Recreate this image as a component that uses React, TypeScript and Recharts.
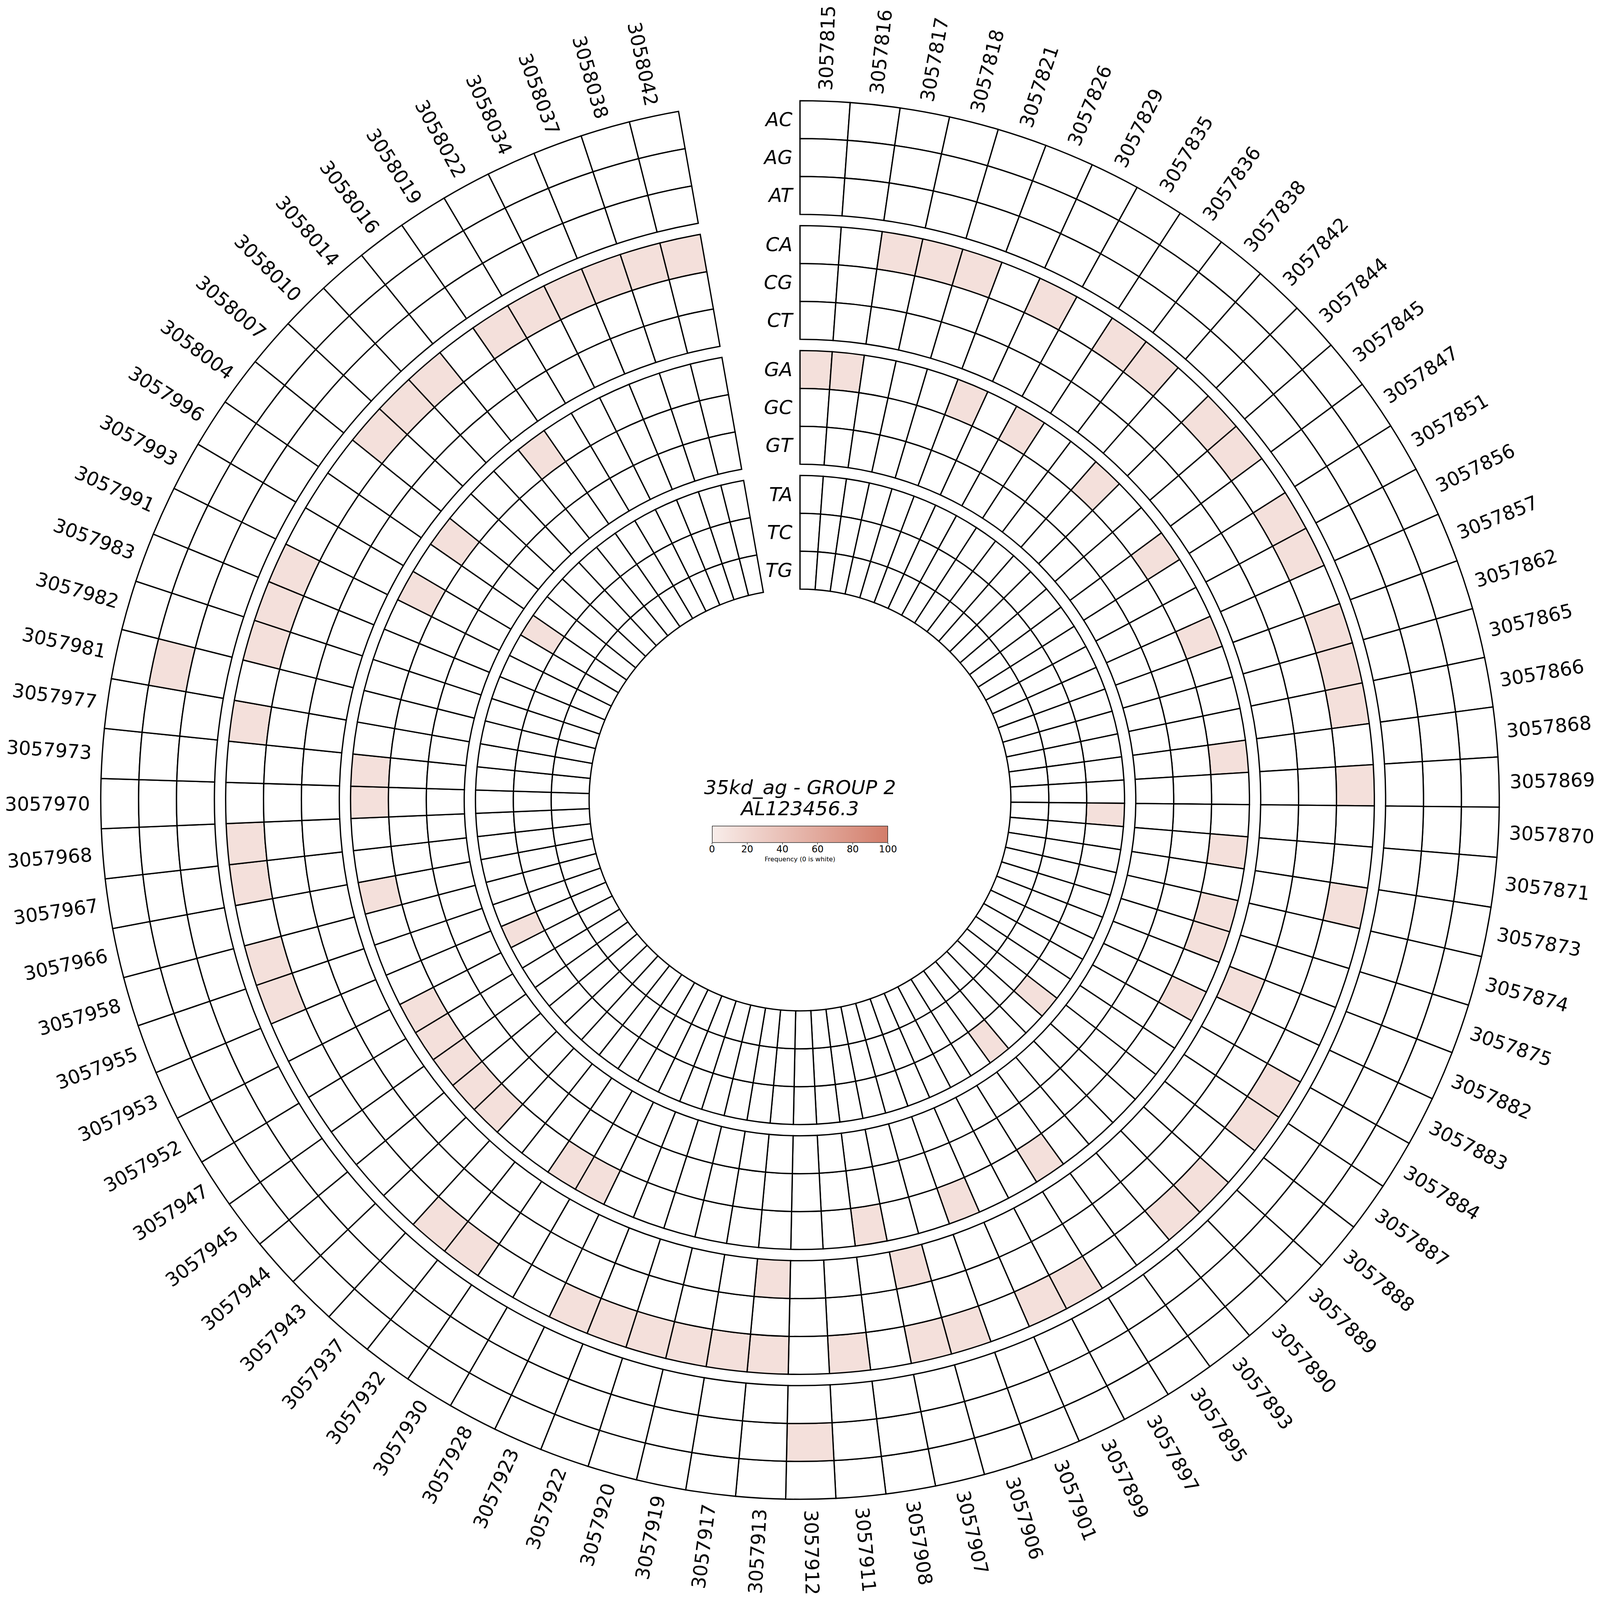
import React from "react";
import { PieChart, Pie, Cell } from "recharts";

// positions around the circle, clockwise from the top
const POSITIONS = [
  "3057815", "3057816", "3057817", "3057818", "3057821", "3057826", "3057829", "3057835",
  "3057836", "3057838", "3057842", "3057844", "3057845", "3057847", "3057851", "3057856",
  "3057857", "3057862", "3057865", "3057866", "3057868", "3057869", "3057870", "3057871",
  "3057873", "3057874", "3057875", "3057882", "3057883", "3057884", "3057887", "3057888",
  "3057889", "3057890", "3057893", "3057895", "3057897", "3057899", "3057901", "3057906",
  "3057907", "3057908", "3057911", "3057912", "3057913", "3057917", "3057919", "3057920",
  "3057922", "3057923", "3057928", "3057930", "3057932", "3057937", "3057943", "3057944",
  "3057945", "3057947", "3057952", "3057953", "3057955", "3057958", "3057966", "3057967",
  "3057968", "3057970", "3057973", "3057977", "3057981", "3057982", "3057983", "3057991",
  "3057993", "3057996", "3058004", "3058007", "3058010", "3058014", "3058016", "3058019",
  "3058022", "3058034", "3058037", "3058038", "3058042",
];

// tracks from the outside in
const TRACKS = ["AC", "AG", "AT", "CA", "CG", "CT", "GA", "GC", "GT", "TA", "TC", "TG"];

// non-zero frequencies per track: [position, frequency]
type Hit = [string, number];
const AC_HITS: Hit[] = [];
const AG_HITS: Hit[] = [["3057912", 12], ["3057981", 12]];
const AT_HITS: Hit[] = [];
const CA_HITS: Hit[] = [
  ["3057817", 12], ["3057818", 12], ["3057821", 12], ["3057829", 12], ["3057836", 12],
  ["3057838", 12], ["3057844", 12], ["3057845", 12], ["3057851", 12], ["3057856", 12],
  ["3057862", 12], ["3057865", 12], ["3057866", 12], ["3057869", 12], ["3057873", 12],
  ["3057884", 12], ["3057887", 12], ["3057889", 12], ["3057890", 12], ["3057897", 12],
  ["3057899", 12], ["3057906", 12], ["3057907", 12], ["3057911", 12], ["3057913", 12],
  ["3057917", 12], ["3057919", 12], ["3057920", 12], ["3057922", 12], ["3057923", 12],
  ["3057932", 12], ["3057937", 12], ["3057955", 12], ["3057958", 12], ["3057967", 12],
  ["3057968", 12], ["3057977", 12], ["3057982", 12], ["3057983", 12], ["3057991", 12],
  ["3058007", 12], ["3058010", 12], ["3058014", 12], ["3058019", 12], ["3058022", 12],
  ["3058034", 12], ["3058037", 12], ["3058038", 12], ["3058042", 12],
];
const CG_HITS: Hit[] = [];
const CT_HITS: Hit[] = [["3057882", 12], ["3057907", 12], ["3057913", 12]];
const GA_HITS: Hit[] = [
  ["3057815", 12], ["3057816", 12], ["3057826", 12], ["3057835", 12], ["3057842", 12],
  ["3057847", 12], ["3057857", 12], ["3057868", 12], ["3057871", 12], ["3057874", 12],
  ["3057875", 12], ["3057883", 12], ["3057895", 12], ["3057901", 12], ["3057908", 12],
  ["3057928", 12], ["3057930", 12], ["3057943", 12], ["3057944", 12], ["3057945", 12],
  ["3057947", 12], ["3057952", 12], ["3057966", 12], ["3057970", 12], ["3057973", 12],
  ["3057993", 12], ["3058004", 12], ["3058016", 12],
];
const GC_HITS: Hit[] = [];
const GT_HITS: Hit[] = [];
const TA_HITS: Hit[] = [
  ["3057870", 12], ["3057888", 12], ["3057893", 12], ["3057953", 12], ["3057996", 12],
];
const TC_HITS: Hit[] = [];
const TG_HITS: Hit[] = [];

const TRACK_HITS = [
  AC_HITS, AG_HITS, AT_HITS, CA_HITS, CG_HITS, CT_HITS,
  GA_HITS, GC_HITS, GT_HITS, TA_HITS, TC_HITS, TG_HITS,
];

const COLORBAR_TICKS = [0, 20, 40, 60, 80, 100];

// geometry, in the reference's pixels
const W = 6766;
const H = 6765;
const CX = 3383;
const CY = 3383;
const OUTER = 2957;
const TRACK_W = 160.2;
const RING_GAP = 47.6;
const FONT = "'DejaVu Sans', sans-serif";

const LOW = [248, 237, 234];
const HIGH = [211, 125, 106];
const colorFor = (v: number) => {
  if (!v) return "#ffffff";
  const t = Math.min(v, 100) / 100;
  const c = LOW.map((l, i) => Math.round(l + (HIGH[i] - l) * t));
  return `rgb(${c[0]},${c[1]},${c[2]})`;
};

const rows = POSITIONS.map((pos) => ({ pos, w: 1 }));

const trackRadii = (t: number) => {
  const ring = Math.floor(t / 3);
  const j = t % 3;
  const outer = OUTER - ring * (3 * TRACK_W + RING_GAP) - j * TRACK_W;
  return { outer, inner: outer - TRACK_W };
};

const makeLabel = (track: string, withPositions: boolean) => (p: any) => {
  const { cx, cy, midAngle, innerRadius, outerRadius, index } = p;
  const parts: React.ReactNode[] = [];
  if (index === 0) {
    parts.push(
      <text
        key="track"
        x={cx - 32}
        y={cy - (innerRadius + outerRadius) / 2}
        textAnchor="end"
        dominantBaseline="central"
        fontStyle="italic"
        fontSize={82}
        fontFamily={FONT}
        fill="#000"
      >
        {track}
      </text>
    );
  }
  if (withPositions) {
    const theta = 90 - midAngle;
    const r = outerRadius + 45;
    const rad = (theta * Math.PI) / 180;
    const x = cx + r * Math.sin(rad);
    const y = cy - r * Math.cos(rad);
    const right = theta < 180;
    const rot = right ? theta - 90 : theta - 270;
    parts.push(
      <text
        key="pos"
        x={x}
        y={y}
        transform={`rotate(${rot} ${x} ${y})`}
        textAnchor={right ? "start" : "end"}
        dominantBaseline="central"
        fontSize={81}
        fontFamily={FONT}
        fill="#000"
      >
        {POSITIONS[index]}
      </text>
    );
  }
  return <g>{parts}</g>;
};

export default function App() {
  // the real viewport may be smaller than the 6766px asked for: fit into it
  const vw = typeof window !== "undefined" ? window.innerWidth : W;
  const vh = typeof window !== "undefined" ? window.innerHeight : H;
  const s = Math.min(1, vw / W, vh / H);

  const cbLeft = 3011;
  const cbWidth = 744;
  const cbTop = 3492;
  const cbHeight = 72;
  return (
    <div
      style={{
        position: "absolute",
        left: 0,
        top: 0,
        width: W * s,
        height: H * s,
        overflow: "hidden",
        background: "#fff",
      }}
    >
      <style>{"html,body{margin:0;overflow:hidden;background:#fff}"}</style>
      <div
        style={{
          position: "absolute",
          left: 0,
          top: 0,
          width: W,
          height: H,
          transform: `scale(${s})`,
          transformOrigin: "0 0",
          fontFamily: FONT,
        }}
      >
        <PieChart width={W} height={H} margin={{ top: 0, right: 0, bottom: 0, left: 0 }}>
          {TRACKS.map((track, t) => {
            const { outer, inner } = trackRadii(t);
            const hits = new Map(TRACK_HITS[t]);
            return (
              <Pie
                key={track}
                data={rows}
                dataKey="w"
                nameKey="pos"
                cx={CX}
                cy={CY}
                startAngle={90}
                endAngle={-260}
                innerRadius={inner}
                outerRadius={outer}
                stroke="#000"
                strokeWidth={5.5}
                isAnimationActive={false}
                labelLine={false}
                label={makeLabel(track, t === 0)}
              >
                {rows.map((row) => (
                  <Cell key={row.pos} fill={colorFor(hits.get(row.pos) ?? 0)} />
                ))}
              </Pie>
            );
          })}
        </PieChart>

        {/* title in the middle */}
        <div
          style={{
            position: "absolute",
            left: 0,
            width: W,
            top: 3285,
            textAlign: "center",
            fontStyle: "italic",
            fontSize: 83,
            lineHeight: "89px",
            color: "#000",
          }}
        >
          <div>35kd_ag - GROUP 2</div>
          <div>AL123456.3</div>
        </div>

        {/* colour bar */}
        <div
          style={{
            position: "absolute",
            left: cbLeft,
            top: cbTop,
            width: cbWidth,
            height: cbHeight,
            boxSizing: "border-box",
            border: "2px solid #000",
            background: `linear-gradient(to right, ${colorFor(0.01)}, ${colorFor(100)})`,
          }}
        />
        {COLORBAR_TICKS.map((v) => {
          const x = cbLeft + (v / 100) * cbWidth;
          return (
            <React.Fragment key={v}>
              <div
                style={{
                  position: "absolute",
                  left: x - 1,
                  top: cbTop + cbHeight,
                  width: 2,
                  height: 7,
                  background: "#000",
                }}
              />
              <div
                style={{
                  position: "absolute",
                  left: x - 100,
                  width: 200,
                  top: 3591 - 25,
                  height: 50,
                  lineHeight: "50px",
                  textAlign: "center",
                  fontSize: 40,
                  color: "#000",
                }}
              >
                {v}
              </div>
            </React.Fragment>
          );
        })}
        <div
          style={{
            position: "absolute",
            left: cbLeft - 200,
            width: cbWidth + 400,
            top: 3634 - 18,
            height: 36,
            lineHeight: "36px",
            textAlign: "center",
            fontSize: 27,
            color: "#000",
          }}
        >
          Frequency (0 is white)
        </div>
      </div>
    </div>
  );
}
